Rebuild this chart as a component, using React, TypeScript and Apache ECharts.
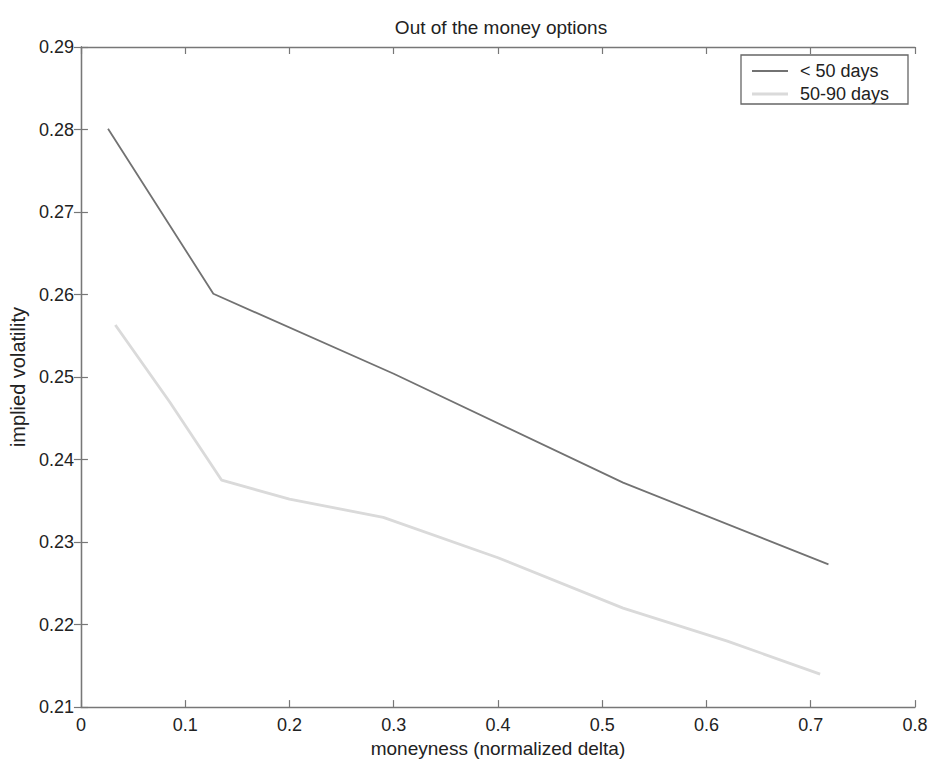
import React, { useEffect, useRef } from "react";
import * as echarts from "echarts";

const titleText = "Out of the money options";
const xAxisName = "moneyness (normalized delta)";
const yAxisName = "implied volatility";
const seriesNames = ["< 50 days", "50-90 days"];
const seriesColors = ["#727272", "#dadada"];
const seriesWidths = [1.8, 2.8];

const shortX = [0.026, 0.127, 0.3, 0.52, 0.717];
const shortY = [0.2801, 0.2601, 0.2504, 0.2372, 0.2273];

const midX = [0.033, 0.085, 0.135, 0.2, 0.29, 0.4, 0.52, 0.62, 0.709];
const midY = [0.2563, 0.2470, 0.2375, 0.2352, 0.2330, 0.2281, 0.2220, 0.2180, 0.2140];

export default function App() {
  const ref = useRef<HTMLDivElement>(null);
  useEffect(() => {
    const chart = echarts.init(ref.current!, null, { renderer: "svg" });
    const font = "'Liberation Sans', Arial, sans-serif";
    const axisLine = { show: true, lineStyle: { color: "#777", width: 1.3 } };
    const tick = { show: true, inside: true, length: 7, lineStyle: { color: "#777", width: 1.2 } };
    const legendX = 741;
    const legendY = 55;
    const rowY = [71, 94];
    const legendElements: any[] = [
      {
        type: "rect",
        shape: { x: legendX, y: legendY, width: 167, height: 49 },
        style: { fill: "#fff", stroke: "#666", lineWidth: 1.3 },
        z: 10,
      },
    ];
    seriesNames.forEach((name, i) => {
      legendElements.push({
        type: "line",
        shape: { x1: 752, y1: rowY[i], x2: 788, y2: rowY[i] },
        style: { stroke: seriesColors[i], lineWidth: seriesWidths[i] },
        z: 11,
      });
      legendElements.push({
        type: "text",
        x: 800,
        y: rowY[i],
        style: {
          text: name,
          fontSize: 18,
          fontFamily: font,
          fill: "#222",
          verticalAlign: "middle",
          align: "left",
        },
        z: 11,
      });
    });
    chart.setOption({
      animation: false,
      backgroundColor: "#ffffff",
      textStyle: { fontFamily: font },
      title: {
        text: titleText,
        left: 496,
        textAlign: "center",
        top: 13,
        textStyle: { fontSize: 19, fontWeight: "normal", color: "#222", fontFamily: font },
      },
      graphic: legendElements,
      grid: { left: 79, right: 19, top: 47, bottom: 52, containLabel: false },
      xAxis: [
        {
          type: "value",
          min: 0,
          max: 0.8,
          interval: 0.1,
          name: xAxisName,
          nameLocation: "middle",
          nameGap: 31,
          nameTextStyle: { fontSize: 19, color: "#222", fontFamily: font },
          axisLine,
          axisTick: tick,
          splitLine: { show: false },
          axisLabel: {
            fontSize: 18,
            color: "#222",
            margin: 9,
            formatter: (v: number) => (v === 0 ? "0" : String(Math.round(v * 10) / 10)),
          },
        },
        {
          type: "value",
          position: "top",
          min: 0,
          max: 0.8,
          interval: 0.1,
          axisLine,
          axisTick: tick,
          axisLabel: { show: false },
          splitLine: { show: false },
        },
      ],
      yAxis: [
        {
          type: "value",
          min: 0.21,
          max: 0.29,
          interval: 0.01,
          name: yAxisName,
          nameLocation: "middle",
          nameGap: 50,
          nameRotate: 90,
          nameTextStyle: { fontSize: 20, color: "#222", fontFamily: font },
          axisLine,
          axisTick: tick,
          splitLine: { show: false },
          axisLabel: {
            fontSize: 18,
            color: "#222",
            margin: 7,
            formatter: (v: number) => v.toFixed(2),
          },
        },
        {
          type: "value",
          position: "right",
          min: 0.21,
          max: 0.29,
          interval: 0.01,
          axisLine,
          axisTick: tick,
          axisLabel: { show: false },
          splitLine: { show: false },
        },
      ],
      series: [
        {
          name: seriesNames[0],
          type: "line",
          showSymbol: false,
          symbol: "none",
          data: shortX.map((x, i) => [x, shortY[i]]),
          lineStyle: { color: seriesColors[0], width: seriesWidths[0] },
          itemStyle: { color: seriesColors[0] },
        },
        {
          name: seriesNames[1],
          type: "line",
          showSymbol: false,
          symbol: "none",
          data: midX.map((x, i) => [x, midY[i]]),
          lineStyle: { color: seriesColors[1], width: seriesWidths[1] },
          itemStyle: { color: seriesColors[1] },
        },
      ],
    });
    return () => chart.dispose();
  }, []);
  return (
    <div
      ref={ref}
      style={{ position: "fixed", top: 0, left: 0, width: 934, height: 763 }}
    />
  );
}
